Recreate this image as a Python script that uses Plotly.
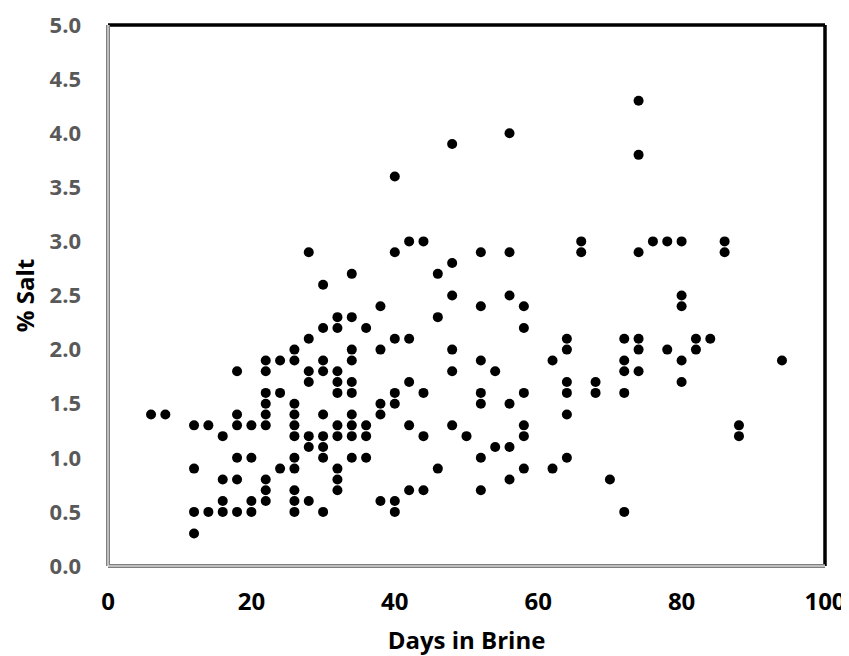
import plotly.graph_objects as go

# Days in brine (x) and % salt (y)
days = ([6, 8] + [12] * 4 + [14] * 2 + [16] * 4 + [18] * 6 + [20] * 4 + [22] * 9
        + [24] * 3 + [26] * 11 + [28] * 7 + [30] * 9 + [32] * 10 + [34] * 10
        + [36] * 4 + [38] * 5 + [40] * 7 + [42] * 5 + [44] * 4 + [46] * 3
        + [48] * 6 + [50] + [52] * 7 + [54] * 2 + [56] * 6 + [58] * 6 + [62] * 2
        + [64] * 6 + [66] * 2 + [68] * 2 + [70] + [72] * 5 + [74] * 6 + [76]
        + [78] * 2 + [80] * 5 + [82] * 2 + [84] + [86] * 2 + [88] * 2 + [94])

salt = [1.4, 1.4,
        1.3, 0.9, 0.5, 0.3,
        1.3, 0.5,
        1.2, 0.8, 0.6, 0.5,
        1.8, 1.4, 1.3, 1.0, 0.8, 0.5,
        1.3, 1.0, 0.6, 0.5,
        1.9, 1.8, 1.6, 1.5, 1.4, 1.3, 0.8, 0.7, 0.6,
        1.9, 1.6, 0.9,
        2.0, 1.9, 1.5, 1.4, 1.3, 1.2, 1.0, 0.9, 0.7, 0.6, 0.5,
        2.9, 2.1, 1.8, 1.7, 1.2, 1.1, 0.6,
        2.6, 2.2, 1.9, 1.8, 1.4, 1.2, 1.1, 1.0, 0.5,
        2.3, 2.2, 1.8, 1.7, 1.6, 1.3, 1.2, 0.9, 0.8, 0.7,
        2.7, 2.3, 2.0, 1.9, 1.7, 1.6, 1.4, 1.3, 1.2, 1.0,
        2.2, 1.3, 1.2, 1.0,
        2.4, 2.0, 1.5, 1.4, 0.6,
        3.6, 2.9, 2.1, 1.6, 1.5, 0.6, 0.5,
        3.0, 2.1, 1.7, 1.3, 0.7,
        3.0, 1.6, 1.2, 0.7,
        2.7, 2.3, 0.9,
        3.9, 2.8, 2.5, 2.0, 1.8, 1.3,
        1.2,
        2.9, 2.4, 1.9, 1.6, 1.5, 1.0, 0.7,
        1.8, 1.1,
        4.0, 2.9, 2.5, 1.5, 1.1, 0.8,
        2.4, 2.2, 1.6, 1.3, 1.2, 0.9,
        1.9, 0.9,
        2.1, 2.0, 1.7, 1.6, 1.4, 1.0,
        3.0, 2.9,
        1.7, 1.6,
        0.8,
        2.1, 1.9, 1.8, 1.6, 0.5,
        4.3, 3.8, 2.9, 2.1, 2.0, 1.8,
        3.0,
        3.0, 2.0,
        3.0, 2.5, 2.4, 1.9, 1.7,
        2.1, 2.0,
        2.1,
        3.0, 2.9,
        1.3, 1.2,
        1.9]

x_ticks = [0, 20, 40, 60, 80, 100]
y_ticks = [0.0, 0.5, 1.0, 1.5, 2.0, 2.5, 3.0, 3.5, 4.0, 4.5, 5.0]

font_name = "Open Sans"

fig = go.Figure()
fig.add_trace(go.Scatter(x=days, y=salt, mode='markers',
                         marker=dict(color='black', size=10)))

# page body adds an 8px margin, so the figure is a bit smaller than the window
fig.update_layout(
    width=841, height=648,
    margin=dict(l=100, r=24, t=17, b=90),
    plot_bgcolor='white', paper_bgcolor='white',
    showlegend=False,
    font=dict(family=font_name, color='black'),
)

# plot area frame: heavy black top/right, thin double line on left/bottom
frame = [
    dict(x0=0, x1=1, y0=1, y1=1, color='black', width=3.5),
    dict(x0=1, x1=1, y0=0, y1=1, color='black', width=3.5),
    dict(x0=0, x1=0, y0=0, y1=1, color='#7f7f7f', width=4),
    dict(x0=0, x1=1, y0=0, y1=0, color='#7f7f7f', width=4),
    dict(x0=0, x1=0, y0=0, y1=1, color='white', width=1),
    dict(x0=0, x1=1, y0=0, y1=0, color='white', width=1),
]
for s in frame:
    fig.add_shape(type='line', xref='x domain', yref='y domain',
                  x0=s['x0'], x1=s['x1'], y0=s['y0'], y1=s['y1'],
                  line=dict(color=s['color'], width=s['width']))

fig.update_xaxes(range=[0, 100], tickvals=x_ticks, showgrid=False, zeroline=False,
                 showline=False, ticks='', ticklabelstandoff=19, ticklabeloverflow='allow',
                 automargin=False,
                 tickfont=dict(family=font_name, size=24, color='black', weight='bold'),
                 title=dict(text='Days in Brine', standoff=16,
                            font=dict(family=font_name, size=24, color='black', weight='bold')))
fig.update_yaxes(range=[0, 5], tickvals=y_ticks, tickformat='.1f', showgrid=False,
                 zeroline=False, showline=False, ticks='', ticklabelstandoff=26,
                 ticklabeloverflow='allow', automargin=False,
                 tickfont=dict(family=font_name, size=22, color='#595959', weight='bold'),
                 title=dict(text='% Salt', standoff=12,
                            font=dict(family=font_name, size=24, color='black', weight='bold')))

fig.write_html("out.html")
